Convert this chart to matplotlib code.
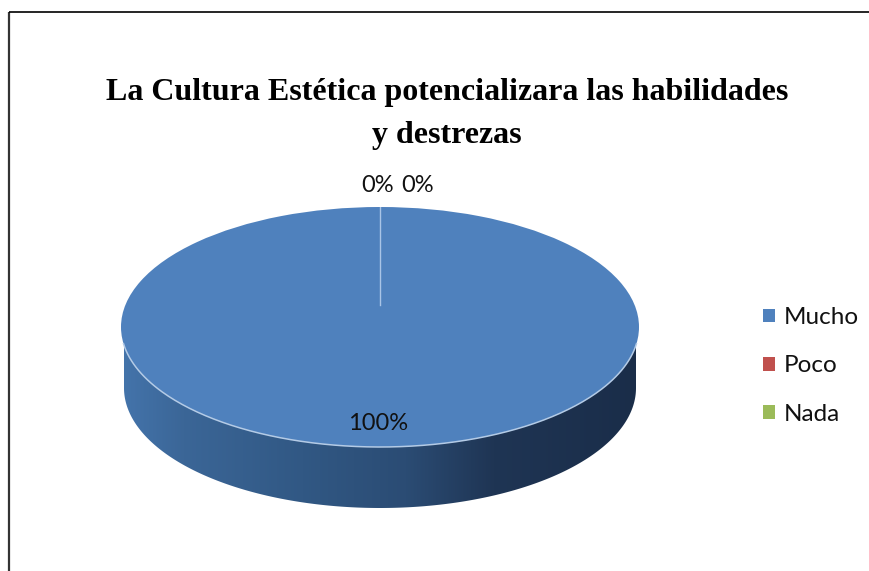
import numpy as np
import matplotlib
matplotlib.use("Agg")
import matplotlib.pyplot as plt
from matplotlib.patches import PathPatch
from matplotlib.path import Path
from matplotlib.colors import LinearSegmentedColormap

TITLE = "La Cultura Estética potencializara las habilidades\ny destrezas"
categories = ["Mucho", "Poco", "Nada"]
values = [100, 0, 0]
value_labels = ["100%", "0%", "0%"]
colors = ["#4f81bd", "#c0504d", "#9bbb59"]

W, H = 869, 571
plt.rcParams['font.family'] = ['Lato', 'DejaVu Sans']
fig = plt.figure(figsize=(W/100, H/100), dpi=100, facecolor="white")

# background layer in pixel coordinates
bg = fig.add_axes([0, 0, 1, 1], zorder=0)
bg.set_xlim(0, W); bg.set_ylim(H, 0); bg.axis("off")
bg.plot([9, 9], [12, H], color="#333333", lw=1.6, solid_capstyle="butt")
bg.plot([9, W], [12, 12], color="black", lw=1.2, solid_capstyle="butt")

# pie geometry in pixels
cx, cy, a, b, depth = 380, 327, 259, 120, 61

# extruded side with horizontal gradient
t = np.linspace(np.pi, 0, 300)
xs = cx + (a-3)*np.cos(t)
ys = cy + depth + b*np.sin(t)
verts = np.vstack([[cx-a+3, cy], np.c_[xs, ys], [cx+a-3, cy], [cx-a+3, cy]])
side_path = Path(verts, closed=True)
cmap = LinearSegmentedColormap.from_list("side", [
    (0.0, "#4474ab"), (0.12, "#3b6697"), (0.35, "#315884"),
    (0.55, "#2b4c74"), (0.72, "#1f3554"), (1.0, "#1a2d49")])
im = bg.imshow(np.linspace(0, 1, 256)[None, :], cmap=cmap, aspect="auto",
               extent=[cx-a, cx+a, H, 0], zorder=2)
bg.set_xlim(0, W); bg.set_ylim(H, 0)
clip = PathPatch(side_path, transform=bg.transData, fc="none", ec="none")
bg.add_patch(clip)
im.set_clip_path(clip)

# top face: a real pie, stretched into an ellipse
ax = fig.add_axes([(cx-a)/W, 1-(cy+b)/H, 2*a/W, 2*b/H], zorder=3)
wedges, _ = ax.pie(values, colors=colors, startangle=90, counterclock=False,
                   radius=1, wedgeprops=dict(linewidth=0))
ax.set_aspect("auto"); ax.set_xlim(-1, 1); ax.set_ylim(-1, 1); ax.axis("off")

# light rim on the front and zero-slice seam
theta = np.radians(np.linspace(188, 352, 200))
ax.plot(np.cos(theta), np.sin(theta), color="#b4cbe6", lw=1.1, clip_on=False)
ax.plot([0, 0], [1, 0.18], color="#a9c4e6", lw=1.0)

# overlay text in pixel coords
fg = fig.add_axes([0, 0, 1, 1], zorder=5)
fg.set_xlim(0, W); fg.set_ylim(H, 0); fg.axis("off")
fg.text(447, 114, TITLE, family="Liberation Serif", weight="bold", fontsize=23,
        ha="center", va="center", linespacing=1.62, color="black")
fg.text(378, 423, value_labels[0], fontsize=17, ha="center", va="center", color="#111111")
fg.text(378, 185, value_labels[1], fontsize=17, ha="center", va="center", color="#111111")
fg.text(418, 185, value_labels[2], fontsize=17, ha="center", va="center", color="#111111")

# legend
fig.legend(wedges, categories, loc="center left", bbox_to_anchor=(763/W, 1-366/H),
           frameon=False, fontsize=17.5, handlelength=0.49, handleheight=0.49,
           handletextpad=0.37, labelspacing=1.13, borderpad=0, borderaxespad=0,
           labelcolor="#111111").set_zorder(6)

fig.savefig("out.png", dpi=100, facecolor="white")
